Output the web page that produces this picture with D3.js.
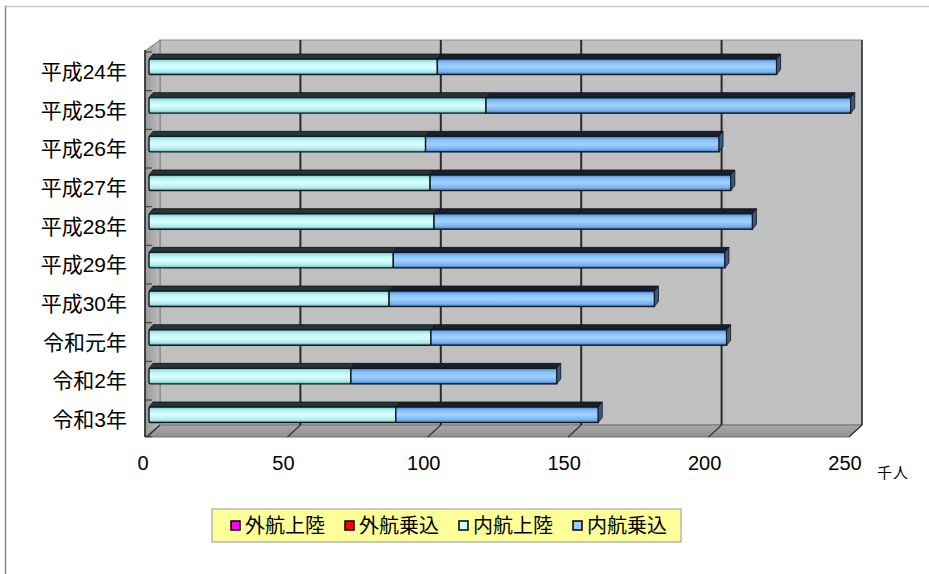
<!DOCTYPE html>
<html>
<head>
<meta charset="utf-8">
<script src="https://cdn.jsdelivr.net/npm/d3@7"></script>
<style>
  body { margin: 0; background: #fff; }
  text { font-family: "Liberation Sans", "Noto Sans CJK JP", sans-serif; fill: #000; }
</style>
</head>
<body>
<div id="container"></div>
<script>
// data (thousand people)
const categories = ['平成24年', '平成25年', '平成26年', '平成27年', '平成28年', '平成29年', '平成30年', '令和元年', '令和2年', '令和3年'];
const seriesNames = ['外航上陸', '外航乗込', '内航上陸', '内航乗込'];
const gaikoJoriku = [0, 0, 0, 0, 0, 0, 0, 0, 0, 0];
const gaikoNorikomi = [0, 0, 0, 0, 0, 0, 0, 0, 0, 0];
const naikoJoriku = [102.7, 120.0, 98.5, 100.1, 101.5, 87.0, 85.5, 100.4, 71.9, 87.9];
const naikoNorikomi = [120.8, 129.9, 104.5, 107.1, 113.4, 118.1, 94.5, 105.3, 73.3, 72.1];
const xTicks = [0, 50, 100, 150, 200, 250];
const unitLabel = '千人';

const width = 929, height = 574;
const depth = { dx: 13, dy: -12 };   // wall depth
const barDepth = { dx: 4, dy: -5 };  // depth of each bar
const barH = 15.5;

const svg = d3.select('#container').append('svg')
  .attr('width', width).attr('height', height);

// outer frame (only top and left edges are visible in the shot)
svg.append('line').attr('x1', 5).attr('y1', 6.5).attr('x2', width).attr('y2', 6.5)
  .attr('stroke', '#c8c8c8').attr('stroke-width', 1.5);
svg.append('line').attr('x1', 5.5).attr('y1', 6).attr('x2', 5.5).attr('y2', height)
  .attr('stroke', '#8a8a8a').attr('stroke-width', 1.5);

const x = d3.scaleLinear().domain([0, 250]).range([147, 849]);
const y = d3.scaleBand().domain(categories).range([52, 438.7]);
const yTop = y.range()[0], yBot = 437;

const defs = svg.append('defs');
function vGrad(id, stops) {
  const g = defs.append('linearGradient').attr('id', id)
    .attr('x1', 0).attr('y1', 0).attr('x2', 0).attr('y2', 1);
  stops.forEach(s => g.append('stop').attr('offset', s[0]).attr('stop-color', s[1]));
}
vGrad('gCyan', [[0, '#78c8c8'], [0.22, '#b6f2f2'], [0.5, '#dcffff'], [0.82, '#b0ecec'], [1, '#64b0b0']]);
vGrad('gBlue', [[0, '#4f88cc'], [0.22, '#86bef8'], [0.5, '#a2d2ff'], [0.82, '#78b2f0'], [1, '#4478bc']]);
vGrad('gMag', [[0, '#c000c0'], [0.5, '#ff40ff'], [1, '#c000c0']]);
vGrad('gRed', [[0, '#c00000'], [0.5, '#ff4040'], [1, '#c00000']]);
vGrad('gFloor', [[0, '#a8a8a8'], [1, '#909090']]);
const hg = defs.append('linearGradient').attr('id', 'gLeft')
  .attr('x1', 0).attr('y1', 0).attr('x2', 1).attr('y2', 0);
hg.append('stop').attr('offset', 0).attr('stop-color', '#9a9a9a');
hg.append('stop').attr('offset', 1).attr('stop-color', '#bcbcbc');

const fills = ['url(#gMag)', 'url(#gRed)', 'url(#gCyan)', 'url(#gBlue)'];
const topFills = ['#600060', '#600000', '#263636', '#18202e'];
const capFills = ['#800080', '#800000', '#4a7a7a', '#3a5a86'];
const legendFills = ['#ff00ff', '#ff0000', '#ccffff', '#99ccff'];

const pts = p => p.map(d => d.join(',')).join(' ');

// walls
const bx0 = x(0) + depth.dx, bx1 = x(250) + depth.dx;
const by0 = yTop + depth.dy, by1 = yBot + depth.dy;
svg.append('rect').attr('x', bx0).attr('y', by0).attr('width', bx1 - bx0).attr('height', by1 - by0)
  .attr('fill', '#c0c0c0').attr('stroke', '#8c8c8c').attr('stroke-width', 1);
svg.append('polygon')
  .attr('points', pts([[x(0) - 2, yTop - 1], [bx0, by0], [bx0, by1], [x(0) - 2, yBot]]))
  .attr('fill', 'url(#gLeft)').attr('stroke', '#7a7a7a').attr('stroke-width', 1);
svg.append('polygon')
  .attr('points', pts([[x(0) - 2, yBot], [bx0, by1], [bx1, by1], [x(250), yBot]]))
  .attr('fill', 'url(#gFloor)').attr('stroke', '#6e6e6e').attr('stroke-width', 1);

// gridlines on back wall, with the short run across the floor
xTicks.forEach(v => {
  const gx = x(v) + depth.dx;
  if (v > 0) {
    svg.append('line').attr('x1', gx).attr('y1', by0).attr('x2', gx).attr('y2', by1)
      .attr('stroke', '#2a2a2a').attr('stroke-width', v === 250 ? 1.5 : 2);
  }
  svg.append('line').attr('x1', gx).attr('y1', by1).attr('x2', x(v)).attr('y2', yBot)
    .attr('stroke', '#333').attr('stroke-width', 1.2);
});

// left (category) axis line and ticks
const axX = x(0) - 2;
svg.append('line').attr('x1', axX).attr('y1', yTop - 2).attr('x2', axX).attr('y2', yBot)
  .attr('stroke', '#222').attr('stroke-width', 1.5);
categories.concat([null]).forEach((c, i) => {
  const ty = c ? y(c) : y.range()[1] - 2;
  svg.append('line').attr('x1', axX).attr('y1', ty).attr('x2', axX + 7).attr('y2', ty)
    .attr('stroke', '#333').attr('stroke-width', 1);
});

// stacked 3D bars
const stackData = categories.map((c, i) => ({
  cat: c, v: [gaikoJoriku[i], gaikoNorikomi[i], naikoJoriku[i], naikoNorikomi[i]]
}));
const bars = svg.append('g');
stackData.forEach(d => {
  const t = y(d.cat) + 7;
  let acc = 0;
  const lastIdx = d.v.reduce((m, v, k) => v > 0 ? k : m, -1);
  d.v.forEach((v, k) => {
    if (v <= 0) return;
    const x0 = x(acc) + 2, x1 = x(acc + v) + 2;
    acc += v;
    // top face
    bars.append('polygon')
      .attr('points', pts([[x0, t], [x1, t], [x1 + barDepth.dx, t + barDepth.dy], [x0 + barDepth.dx, t + barDepth.dy]]))
      .attr('fill', topFills[k]).attr('stroke', '#111').attr('stroke-width', 0.8);
    // front face
    bars.append('rect').attr('x', x0).attr('y', t).attr('width', x1 - x0).attr('height', barH)
      .attr('rx', k === 0 || acc === v ? 1.5 : 0)
      .attr('fill', fills[k]).attr('stroke', '#101820').attr('stroke-width', 1.4);
    // end cap
    if (k === lastIdx) {
      bars.append('polygon')
        .attr('points', pts([[x1, t], [x1 + barDepth.dx, t + barDepth.dy], [x1 + barDepth.dx, t + barDepth.dy + barH], [x1, t + barH]]))
        .attr('fill', capFills[k]).attr('stroke', '#111').attr('stroke-width', 0.8);
    }
  });
});

// category labels
svg.append('g').selectAll('text').data(categories).join('text')
  .attr('x', 127).attr('y', c => y(c) + y.bandwidth() / 2)
  .attr('dy', '0.36em').attr('text-anchor', 'end')
  .style('font-size', '21px').text(c => c);

// value labels
svg.append('g').selectAll('text').data(xTicks).join('text')
  .attr('x', v => x(v) - 4).attr('y', 470)
  .attr('text-anchor', 'middle').style('font-size', '20px').text(v => v);
svg.append('text').attr('x', 877).attr('y', 478)
  .style('font-size', '15px').style('letter-spacing', '1px').text(unitLabel);

// legend
const legend = svg.append('g');
legend.append('rect').attr('x', 212).attr('y', 509).attr('width', 469).attr('height', 33)
  .attr('fill', '#ffff99').attr('stroke', '#a6a6a6').attr('stroke-width', 1.2);
seriesNames.forEach((name, k) => {
  const lx = 231 + k * 114;
  legend.append('rect').attr('x', lx).attr('y', 521).attr('width', 9).attr('height', 9)
    .attr('fill', legendFills[k]).attr('stroke', '#000').attr('stroke-width', 1.5);
  legend.append('text').attr('x', lx + 14).attr('y', 533)
    .style('font-size', '20px').text(name);
});
</script>
</body>
</html>
